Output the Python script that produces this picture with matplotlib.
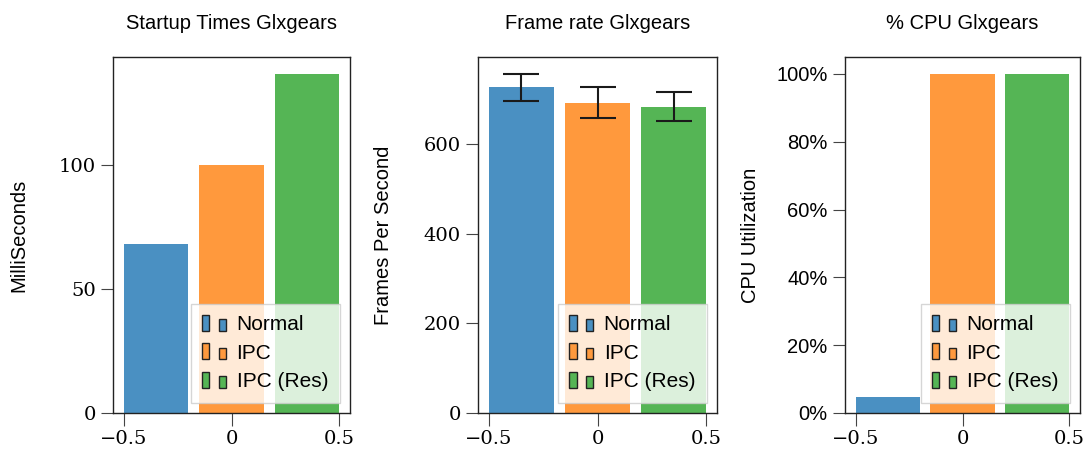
import numpy as np
import matplotlib
matplotlib.use("Agg")
import matplotlib.pyplot as plt
from matplotlib.patches import Rectangle, Patch
from matplotlib.legend_handler import HandlerBase
from matplotlib.ticker import FuncFormatter

labels = ["Normal", "IPC", "IPC (Res)"]
colors = ["#4A90C2", "#FF993D", "#55B555"]
positions = [-0.35, 0.0, 0.35]

startup_ms = [68, 100, 136.5]
fps = [727, 693, 684]
fps_err = [30, 35, 33]
cpu_pct = [4.7, 100, 100]

sans = ["Liberation Sans", "DejaVu Sans"]
serif = "DejaVu Serif"


class TwoBoxHandler(HandlerBase):
    # legend key drawn as a tall box followed by a shorter one
    def create_artists(self, legend, orig_handle, xdescent, ydescent,
                       width, height, fontsize, trans):
        fc = orig_handle.get_facecolor()
        w = width * 0.24
        x0 = -xdescent
        y0 = -ydescent
        r1 = Rectangle((x0, y0 - height * 0.05), w, height * 1.1,
                       facecolor=fc, edgecolor="#222222", lw=1.0, transform=trans)
        r2 = Rectangle((x0 + width * 0.55, y0 - height * 0.05), w, height * 0.8,
                       facecolor=fc, edgecolor="#222222", lw=1.0, transform=trans)
        return [r1, r2]


fig = plt.figure(figsize=(10.83, 4.51), dpi=100)
lefts = [113, 478, 845]
widths = [237, 239, 235]
axes = []
for l, w in zip(lefts, widths):
    axes.append(fig.add_axes([l / 1083, 38 / 451, w / 1083, 356 / 451]))

titles = ["Startup Times Glxgears", "Frame rate Glxgears", "% CPU Glxgears"]
ylabels = ["MilliSeconds", "Frames Per Second", "CPU Utilization"]
values = [startup_ms, fps, cpu_pct]

for i, ax in enumerate(axes):
    errs = fps_err if i == 1 else None
    ax.bar(positions, values[i], width=0.3, color=colors, yerr=errs,
           capsize=13, error_kw=dict(ecolor="#1a1a1a", elinewidth=1.5, capthick=1.5))
    ax.set_title(titles[i], fontsize=14.5, family=sans, pad=20)
    ax.set_ylabel(ylabels[i], fontsize=14.5, family=sans)
    ax.yaxis.set_label_coords(-85 / widths[i], 0.5)
    ax.set_xticks([-0.5, 0, 0.5])
    ax.set_xticklabels(["\u22120.5", "0", "0.5"], family=serif, fontsize=14)
    ax.tick_params(length=9, width=0.8, color="#444444")
    for s in ax.spines.values():
        s.set_linewidth(1.0)
        s.set_color("#222222")

    handles = [Patch(facecolor=c) for c in colors]
    leg = ax.legend(handles, labels, loc="lower right", handler_map={Patch: TwoBoxHandler()},
                    prop={"family": sans, "size": 15}, framealpha=0.8, fancybox=False,
                    handlelength=1.45, handletextpad=0.2, borderaxespad=0.5,
                    labelspacing=0.45, borderpad=0.55)
    leg.get_frame().set_edgecolor("#cccccc")

axes[0].set_yticks([0, 50, 100])
axes[1].set_yticks([0, 200, 400, 600])
axes[2].set_yticks([0, 20, 40, 60, 80, 100])
for ax in axes[:2]:
    for t in ax.get_yticklabels():
        t.set_family(serif)
        t.set_fontsize(14)
axes[2].yaxis.set_major_formatter(FuncFormatter(lambda v, p: "%d%%" % v))
for t in axes[2].get_yticklabels():
    t.set_family(sans)
    t.set_fontsize(14.5)

fig.savefig("out.png", dpi=100)
